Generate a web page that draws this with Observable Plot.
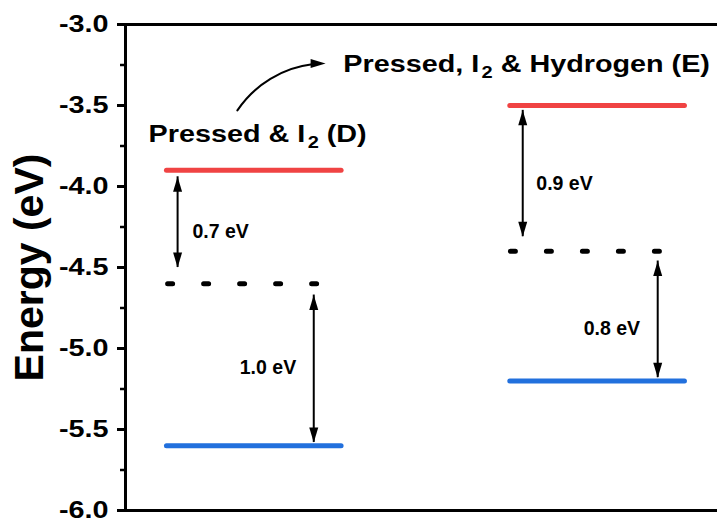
<!DOCTYPE html>
<html>
<head>
<meta charset="utf-8">
<script src="https://cdn.jsdelivr.net/npm/d3@7"></script>
<script src="https://cdn.jsdelivr.net/npm/@observablehq/plot@0.6"></script>
<style>
  html, body { margin: 0; padding: 0; background: white; }
</style>
</head>
<body>
<div id="chart"></div>
<script>
// ---- data ----
const samples = ["D", "E"];
const levelX1 = [0.7, 6.5];
const levelX2 = [3.65, 9.45];
const cbm = [-3.9, -3.5];          // red levels
const fermi = [-4.6, -4.4];        // dotted levels
const vbm = [-5.6, -5.2];          // blue levels
const fermiX1 = [0.72, 6.51];
const fermiX2 = [3.25, 9.04];

const gapLabels = ["0.7 eV", "1.0 eV", "0.9 eV", "0.8 eV"];
const gapX = [0.88, 3.18, 6.71, 8.99];
const gapTop = [-3.94, -4.67, -3.53, -4.46];
const gapBottom = [-4.50, -5.58, -4.31, -5.18];
const gapLabelX = [1.13, 1.93, 6.94, 7.74];
const gapLabelY = [-4.28, -5.12, -3.98, -4.88];

const titles = ["Pressed & I\u2082 (D)", "Pressed, I\u2082 & Hydrogen (E)"];
const titleX = [0.39, 3.68];
const titleY = [-3.68, -3.25];

const curveFrom = [1.89, -3.53];
const curveTo = [3.38, -3.24];

const majorTicks = [-6.0, -5.5, -5.0, -4.5, -4.0, -3.5, -3.0];
const minorTicks = [-5.75, -5.25, -4.75, -4.25, -3.75, -3.25];
const yLabel = "Energy (eV)";

// ---- derived tables ----
const levels = samples.map((s, i) => ({s, x1: levelX1[i], x2: levelX2[i], cb: cbm[i], vb: vbm[i], ef: fermi[i], fx1: fermiX1[i], fx2: fermiX2[i]}));
const gaps = gapLabels.map((label, i) => ({label, x: gapX[i], top: gapTop[i], bottom: gapBottom[i], lx: gapLabelX[i], ly: gapLabelY[i]}));
const heads = gaps.flatMap(g => [{x: g.x, y: g.top, rot: 0}, {x: g.x, y: g.bottom, rot: 180}]);
const titleRows = titles.map((t, i) => ({t, x: titleX[i], y: titleY[i]}));
const curve = [{x1: curveFrom[0], y1: curveFrom[1], x2: curveTo[0], y2: curveTo[1]}];
const tickFmt = d => d.toFixed(1);

// filled, elongated arrow head: tip at origin, pointing up
const headSymbol = {
  draw(ctx) {
    ctx.moveTo(0, 0);
    ctx.lineTo(4.5, 15);
    ctx.lineTo(-4.5, 15);
    ctx.closePath();
  }
};

const RED = "#f04343";
const BLUE = "#2270dd";

const svg = Plot.plot({
  width: 717,
  height: 518,
  marginLeft: 125,
  marginRight: 0,
  marginTop: 24,
  marginBottom: 8,
  x: {domain: [0, 10], axis: null},
  y: {domain: [-6, -3], axis: null},
  style: {fontFamily: "'Liberation Sans', Arial, sans-serif", fontWeight: "bold", color: "black", background: "white"},
  marks: [
    Plot.ruleY([-3, -6], {strokeWidth: 3}),
    Plot.ruleX([0], {strokeWidth: 3}),
    Plot.axisY(minorTicks, {tickSize: 5, strokeWidth: 2.5, tickFormat: () => "", label: null}),
    Plot.axisY(majorTicks, {tickSize: 8, tickPadding: 9, strokeWidth: 3, fontSize: 24, tickFormat: tickFmt, label: null}),
    Plot.text([yLabel], {frameAnchor: "left", textAnchor: "middle", rotate: -90, dx: -96, fontSize: 41, fill: "black"}),
    // energy levels
    Plot.ruleY(levels, {y: "cb", x1: "x1", x2: "x2", stroke: RED, strokeWidth: 5, strokeLinecap: "round"}),
    Plot.ruleY(levels, {y: "vb", x1: "x1", x2: "x2", stroke: BLUE, strokeWidth: 5, strokeLinecap: "round"}),
    Plot.ruleY(levels, {y: "ef", x1: "fx1", x2: "fx2", stroke: "black", strokeWidth: 5, strokeLinecap: "round", strokeDasharray: "5,31"}),
    // gap arrows
    Plot.ruleX(gaps, {x: "x", y1: "top", y2: "bottom", strokeWidth: 2}),
    Plot.dot(heads, {x: "x", y: "y", rotate: "rot", symbol: headSymbol, r: 4, fill: "black", stroke: "none"}),
    Plot.text(gaps, {x: "lx", y: "ly", text: "label", textAnchor: "start", fontSize: 19.5, fill: "black"}),
    // titles
    Plot.text(titleRows, {x: "x", y: "y", text: "t", textAnchor: "start", fontSize: 23, fill: "black"}),
    // curved arrow
    Plot.arrow(curve, {x1: "x1", y1: "y1", x2: "x2", y2: "y2", bend: 28, strokeWidth: 2, headLength: 0, insetEnd: 12}),
    Plot.dot(curve, {x: "x2", y: "y2", rotate: 90, symbol: headSymbol, r: 4, fill: "black", stroke: "none"})
  ]
});

document.getElementById("chart").appendChild(svg);

// post-process: real subscripts and the wide bold lettering of the reference
const tickTexts = new Set(majorTicks.map(tickFmt));
const titleSet = new Set(titles);
const NS = "http://www.w3.org/2000/svg";
svg.querySelectorAll("text").forEach(t => {
  const s = t.textContent.trim();
  let factor = 0;
  if (titleSet.has(s)) {
    factor = 1.25;
    const [a, b] = s.split("\u2082");
    t.textContent = "";
    const t1 = document.createElementNS(NS, "tspan"); t1.textContent = a + "\u200a";
    const t2 = document.createElementNS(NS, "tspan"); t2.textContent = "2";
    t2.setAttribute("font-size", "16"); t2.setAttribute("dy", "6");
    const t3 = document.createElementNS(NS, "tspan"); t3.textContent = b;
    t3.setAttribute("dy", "-6");
    t.append(t1, t2, t3);
  } else if (tickTexts.has(s) || tickTexts.has(s.replace("\u2212", "-"))) {
    factor = 1.2;
  }
  if (factor) {
    const L = t.getComputedTextLength();
    if (L > 0) {
      t.setAttribute("textLength", (L * factor).toFixed(1));
      t.setAttribute("lengthAdjust", "spacingAndGlyphs");
    }
  }
});
</script>
</body>
</html>
